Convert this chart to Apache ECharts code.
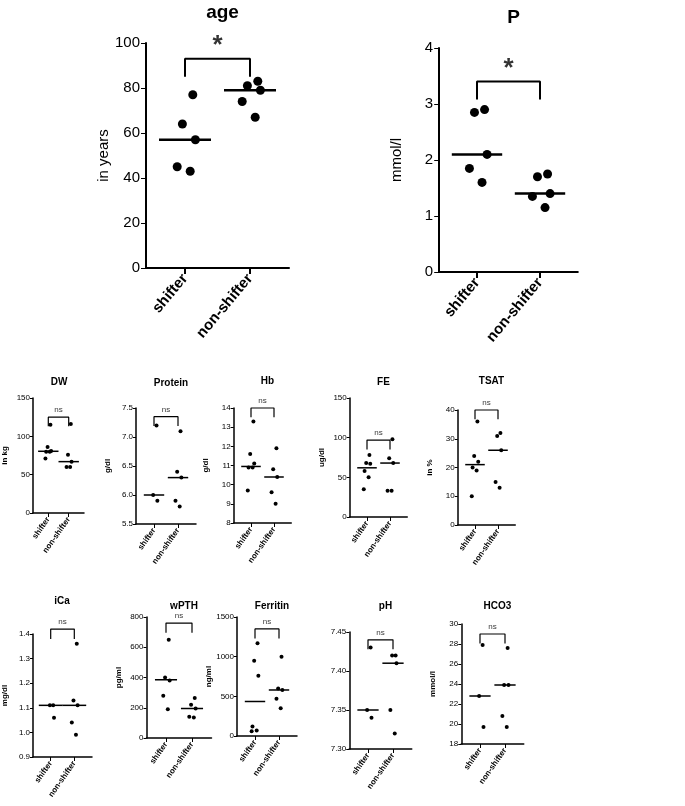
<!DOCTYPE html><html><head><meta charset="utf-8"><script src="https://cdn.jsdelivr.net/npm/echarts@6/dist/echarts.min.js"></script>
<style>body{margin:0}#c{width:685px;height:806px}</style></head><body><div id="c"></div><script>
const categories=['shifter','non-shifter'];
const ageShifter=[77,64,57,45,43], ageNon=[83,81,79,74,67], ageMed=[57,79];
const pShifter=[2.9,2.85,2.1,1.85,1.6], pNon=[1.75,1.7,1.4,1.35,1.15], pMed=[2.1,1.4];
const dwShifter=[115,86,81,80,80,71], dwNon=[116,76,67,60,60], dwMed=[80.5,67];
const protShifter=[7.2,6.0,5.9], protNon=[7.1,6.4,6.3,5.9,5.8], protMed=[6.0,6.3];
const hbShifter=[13.3,11.6,11.1,10.9,10.9,9.7], hbNon=[11.9,10.8,10.4,9.6,9.0], hbMed=[10.95,10.4];
const feShifter=[78,68,67,58,50,35], feNon=[98,74,68,33,33], feMed=[62,68];
const tsatShifter=[36,24,22,20,19,10], tsatNon=[32,31,26,15,13], tsatMed=[21,26];
const icaShifter=[1.11,1.11,1.06], icaNon=[1.36,1.13,1.11,1.04,0.99], icaMed=[1.11,1.11];
const pthShifter=[650,400,380,280,190], pthNon=[265,220,195,140,135], pthMed=[385,195];
const ferShifter=[1170,950,760,120,70,60], ferNon=[1000,600,580,470,350], ferMed=[435,580];
const phShifter=[7.43,7.35,7.34], phNon=[7.42,7.42,7.41,7.35,7.32], phMed=[7.35,7.41];
const hcoShifter=[27.9,22.8,19.7], hcoNon=[27.6,23.9,23.9,20.8,19.7], hcoMed=[22.8,23.9];
const jitter=[0.15,-0.05,0.2,-0.15,0.1,-0.2];
// layout: [title,unit,shifter,non,median,min,max,interval,bracketY,sig, xS,xN,yTop,yBottom,big,titleTop]
const panels=[
['age','in years',ageShifter,ageNon,ageMed,0,100,20,93,'*',185,250,43,268,true,-2],
['P','mmol/l',pShifter,pNon,pMed,0,4,1,3.4,'*',477,540,48,272,true,3],
['DW','in kg',dwShifter,dwNon,dwMed,0,150,50,125,'ns',42,66,398,513,false,372],
['Protein','g/dl',protShifter,protNon,protMed,5.5,7.5,0.5,7.35,'ns',154,178,408,524,false,373],
['Hb','g/dl',hbShifter,hbNon,hbMed,8,14,1,14,'ns',251,274,408,523,false,371],
['FE','ug/dl',feShifter,feNon,feMed,0,150,50,97,'ns',367,390,398,517,false,372],
['TSAT','in %',tsatShifter,tsatNon,tsatMed,0,40,10,40,'ns',475,498,410,525,false,371],
['iCa','mg/dl',icaShifter,icaNon,icaMed,0.9,1.4,0.1,1.42,'ns',43,71,634,757,false,591],
['wPTH','pg/ml',pthShifter,pthNon,pthMed,0,800,200,760,'ns',166,192,617,738,false,596],
['Ferritin','ng/ml',ferShifter,ferNon,ferMed,0,1500,500,1350,'ns',255,279,617,736,false,596],
['pH','',phShifter,phNon,phMed,7.30,7.45,0.05,7.44,'ns',368,393,632,749,false,596],
['HCO3','mmol/l',hcoShifter,hcoNon,hcoMed,18,30,2,29,'ns',480,505,624,744,false,596]
];
const F='Liberation Sans';
const grid=[],xAxis=[],yAxis=[],series=[],title=[];
panels.forEach((p,i)=>{
 const [t,u,s,n,m,mn,mx,iv,by,sig,xs,xn,yt,yb,big,tt]=p;
 const d=xn-xs, lo=big?0.6:0.75;
 grid.push({left:xs-lo*d,width:(1+2*lo)*d,top:yt,height:yb-yt});
 title.push({text:t,left:(xs+xn)/2,top:tt,textAlign:'center',textStyle:{fontFamily:F,fontWeight:'bold',fontSize:big?19:10,color:'#000'}});
 xAxis.push({gridIndex:i,type:'value',min:-lo,max:1+lo,interval:1,splitLine:{show:false},
  axisLine:{onZero:false,lineStyle:{color:'#000',width:big?2:1.5}},axisTick:{show:true,customValues:[0,1],length:big?6:4,lineStyle:{color:'#000',width:big?2:1}},
  axisLabel:{customValues:[0,1],formatter:v=>categories[v]||'',rotate:big?50:55,fontFamily:F,fontWeight:'bold',fontSize:big?15:8,color:'#000',margin:big?8:5}});
 yAxis.push({gridIndex:i,type:'value',min:mn,max:mx,interval:iv,name:u,nameLocation:'middle',nameGap:big?35:24,
  nameTextStyle:{fontFamily:F,fontSize:big?15:8,fontWeight:big?'normal':'bold',color:'#000'},splitLine:{show:false},
  axisLine:{show:true,onZero:false,lineStyle:{color:'#000',width:big?2:1.5}},axisTick:{show:true,length:big?5:3,lineStyle:{color:'#000'}},
  axisLabel:{fontFamily:F,fontSize:big?15:8,color:'#000',margin:big?6:3,formatter:v=>(t==='pH'?v.toFixed(2):(iv<1?v.toFixed(1):v))}});
 const pts=s.map((v,k)=>[jitter[k%6]*(big?0.8:0.7),v]).concat(n.map((v,k)=>[1+jitter[k%6]*(big?0.8:0.7),v]));
 series.push({type:'scatter',xAxisIndex:i,yAxisIndex:i,data:pts,symbolSize:big?9:4,itemStyle:{color:'#000',opacity:1},silent:true});
 series.push({type:'scatter',xAxisIndex:i,yAxisIndex:i,data:[[0,m[0]],[1,m[1]]],symbol:'rect',symbolSize:[d*(big?0.8:0.85),big?2.5:1.5],itemStyle:{color:'#000',opacity:1},silent:true});
 const bl=(mx-mn)*0.08;
 series.push({type:'line',xAxisIndex:i,yAxisIndex:i,data:[[0,by-bl],[0,by],[1,by],[1,by-bl]],symbol:'none',clip:false,lineStyle:{color:'#000',width:big?2:1.2},silent:true});
 series.push({type:'scatter',xAxisIndex:i,yAxisIndex:i,data:[[0.5,by]],symbolSize:0,clip:false,label:{show:true,formatter:sig,position:'top',distance:big?0:3,fontFamily:F,fontSize:big?26:8,fontWeight:big?'bold':'normal',color:'#000'}});
});
const ch=echarts.init(document.getElementById('c'));
ch.setOption({backgroundColor:'#fff',animation:false,title,grid,xAxis,yAxis,series});
</script></body></html>
